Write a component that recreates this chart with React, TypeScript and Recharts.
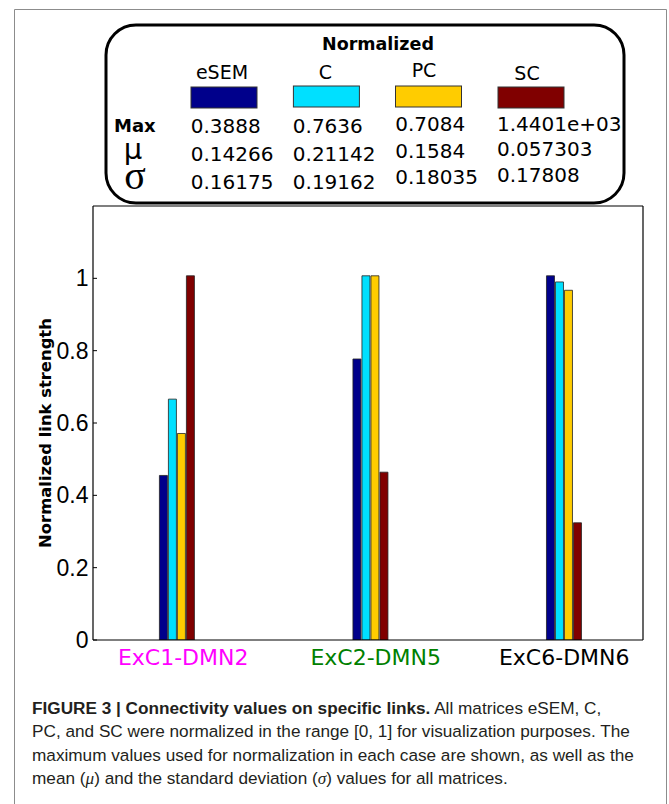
import React from "react";
import { ComposedChart, Bar, Line, XAxis, YAxis } from "recharts";

// link categories and their label colours
const categories = ["ExC1-DMN2", "ExC2-DMN5", "ExC6-DMN6"];
const categoryColors = ["#ff00ff", "#008000", "#000000"];
const positions = [1, 2, 3];

// normalized link strength per matrix
const eSEM = [0.455, 0.777, 1.007];
const C = [0.666, 1.007, 0.99];
const PC = [0.571, 1.007, 0.967];
const SC = [1.007, 0.464, 0.324];

// legend table
const seriesNames = ["eSEM", "C", "PC", "SC"];
const seriesColors = ["#00008b", "#00e0ff", "#ffcc00", "#800000"];
const maxValues = ["0.3888", "0.7636", "0.7084", "1.4401e+03"];
const muValues = ["0.14266", "0.21142", "0.1584", "0.057303"];
const sigmaValues = ["0.16175", "0.19162", "0.18035", "0.17808"];

const yTicks = [0, 0.2, 0.4, 0.6, 0.8, 1];
// top-edge minor ticks, as fractions of the axis width
const topTickFractions = [0.3, 0.4, 0.5, 0.6, 0.7, 0.8, 0.9];

const X_DOMAIN: [number, number] = [0.565, 3.407];
const topTicks = topTickFractions.map((f) => X_DOMAIN[0] + f * (X_DOMAIN[1] - X_DOMAIN[0]));

const data = categories.map((name, i) => ({
  name,
  pos: positions[i],
  eSEM: eSEM[i],
  C: C[i],
  PC: PC[i],
  SC: SC[i],
}));

const labelShift = [6, 5, 0];

const CategoryTick = (props: any) => {
  const { x, y, payload } = props;
  const idx = positions.indexOf(payload.value);
  if (idx < 0) return null;
  return (
    <text
      x={x + labelShift[idx]}
      y={y + 23}
      textAnchor="middle"
      fontFamily="DejaVu Sans"
      fontSize={22}
      fill={categoryColors[idx]}
    >
      {categories[idx]}
    </text>
  );
};

const headerX = [222, 325.5, 424, 527];
const headerY = [71.7, 71.7, 70, 73.3];
const swatchX = [191, 293.4, 395.5, 498];
const swatchY = [87, 86, 86, 87];
const valueX = [190.7, 292.8, 395.2, 497];
const rowY = [
  [126, 154, 181.7],
  [126, 154, 181.7],
  [123.3, 150.7, 176.7],
  [123.3, 148.3, 175],
];

const Overlay = () => {
  const vfs = 20;
  const rows = [maxValues, muValues, sigmaValues];
  return (
    <svg
      width={669}
      height={804}
      style={{ position: "absolute", left: 0, top: 0, pointerEvents: "none" }}
    >
      {/* outer figure frame */}
      <path d="M14.5 820 V9.5 H666.5 V820" fill="none" stroke="#8c8c8c" strokeWidth={1} />

      {/* legend box */}
      <rect x={106} y={25} width={518} height={178} rx={30} ry={30} fill="#fff" stroke="#000" strokeWidth={3} />
      <text x={378} y={50} textAnchor="middle" fontFamily="DejaVu Sans" fontWeight="bold" fontSize={17.5}>
        Normalized
      </text>
      {seriesNames.map((s, i) => (
        <g key={s}>
          <text x={headerX[i]} y={headerY[i] + 7} textAnchor="middle" fontFamily="DejaVu Sans" fontSize={19}>
            {s}
          </text>
          <rect x={swatchX[i]} y={swatchY[i]} width={66} height={21} fill={seriesColors[i]} stroke="#333" strokeWidth={1} />
          {rows.map((r, j) => (
            <text key={j} x={valueX[i]} y={rowY[i][j] + 0.36 * vfs} fontFamily="DejaVu Sans" fontSize={vfs}>
              {r[i]}
            </text>
          ))}
        </g>
      ))}
      <text x={114} y={131.5} fontFamily="DejaVu Sans" fontWeight="bold" fontSize={18}>
        Max
      </text>
      <text x={133} y={159} textAnchor="middle" fontFamily="DejaVu Sans" fontSize={29}>
        μ
      </text>
      <text x={135} y={189} textAnchor="middle" fontFamily="Liberation Serif" fontSize={40}>
        σ
      </text>

      {/* y axis title */}
      <text
        x={51}
        y={433}
        transform="rotate(-90 51 433)"
        textAnchor="middle"
        fontFamily="DejaVu Sans"
        fontWeight="bold"
        fontSize={16.4}
      >
        Normalized link strength
      </text>

      {/* caption */}
      <g fontFamily="Liberation Sans" fontSize={17.2} fill="#231f20">
        <text x={32} y={713.5}>
          <tspan fontWeight="bold">FIGURE 3 | Connectivity values on specific links.</tspan>
          <tspan> All matrices eSEM, C,</tspan>
        </text>
        <text x={32} y={737}>
          PC, and SC were normalized in the range [0, 1] for visualization purposes. The
        </text>
        <text x={32} y={760.5}>
          maximum values used for normalization in each case are shown, as well as the
        </text>
        <text x={32} y={784}>
          mean (<tspan fontFamily="Liberation Serif" fontStyle="italic">μ</tspan>) and the standard deviation (
          <tspan fontFamily="Liberation Serif" fontStyle="italic">σ</tspan>) values for all matrices.
        </text>
      </g>
    </svg>
  );
};

const App = () => {
  return (
    <div style={{ position: "absolute", left: 0, top: 0, width: 669, height: 804, background: "#fff", overflow: "hidden" }}>
      <div style={{ position: "absolute", left: 0, top: 0 }}>
        <ComposedChart
          width={669}
          height={700}
          data={data}
          margin={{ top: 205, right: 25, bottom: 20, left: 33 }}
          barSize={8}
          barGap={1}
        >
          <XAxis
            dataKey="pos"
            type="number"
            domain={X_DOMAIN}
            ticks={positions}
            height={40}
            tickLine={false}
            tickSize={0}
            axisLine={{ stroke: "#000", strokeWidth: 1.2 }}
            tick={<CategoryTick />}
            interval={0}
            allowDataOverflow
          />
          <XAxis
            xAxisId="top"
            dataKey="pos"
            orientation="top"
            type="number"
            domain={X_DOMAIN}
            ticks={topTicks}
            height={1}
            tick={false}
            tickSize={-4}
            tickLine={{ stroke: "#000" }}
            axisLine={{ stroke: "#000", strokeWidth: 1.2 }}
            interval={0}
            allowDataOverflow
          />
          <YAxis
            type="number"
            domain={[0, 1.2]}
            ticks={yTicks}
            width={60}
            tickSize={-4}
            tickMargin={8.5}
            tickLine={{ stroke: "#000" }}
            axisLine={{ stroke: "#000", strokeWidth: 1.2 }}
            tick={{ fill: "#000", fontFamily: "Liberation Sans", fontSize: 23 }}
            tickFormatter={(v) => String(Math.round(v * 10) / 10)}
            interval={0}
            allowDataOverflow
          />
          <YAxis
            yAxisId="right"
            orientation="right"
            type="number"
            domain={[0, 1.2]}
            ticks={yTicks}
            width={1}
            tick={false}
            tickSize={-4}
            tickLine={{ stroke: "#000" }}
            axisLine={{ stroke: "#000", strokeWidth: 1.2 }}
            interval={0}
            allowDataOverflow
          />
          {seriesNames.map((s, i) => (
            <Bar
              key={s}
              dataKey={s}
              fill={seriesColors[i]}
              stroke="#222"
              strokeWidth={0.8}
              isAnimationActive={false}
            />
          ))}
          {/* invisible series so the top and right frame axes are drawn */}
          <Line
            xAxisId="top"
            yAxisId="right"
            dataKey="SC"
            stroke="none"
            dot={false}
            activeDot={false}
            legendType="none"
            isAnimationActive={false}
          />
        </ComposedChart>
      </div>
      <Overlay />
    </div>
  );
};

export default App;
